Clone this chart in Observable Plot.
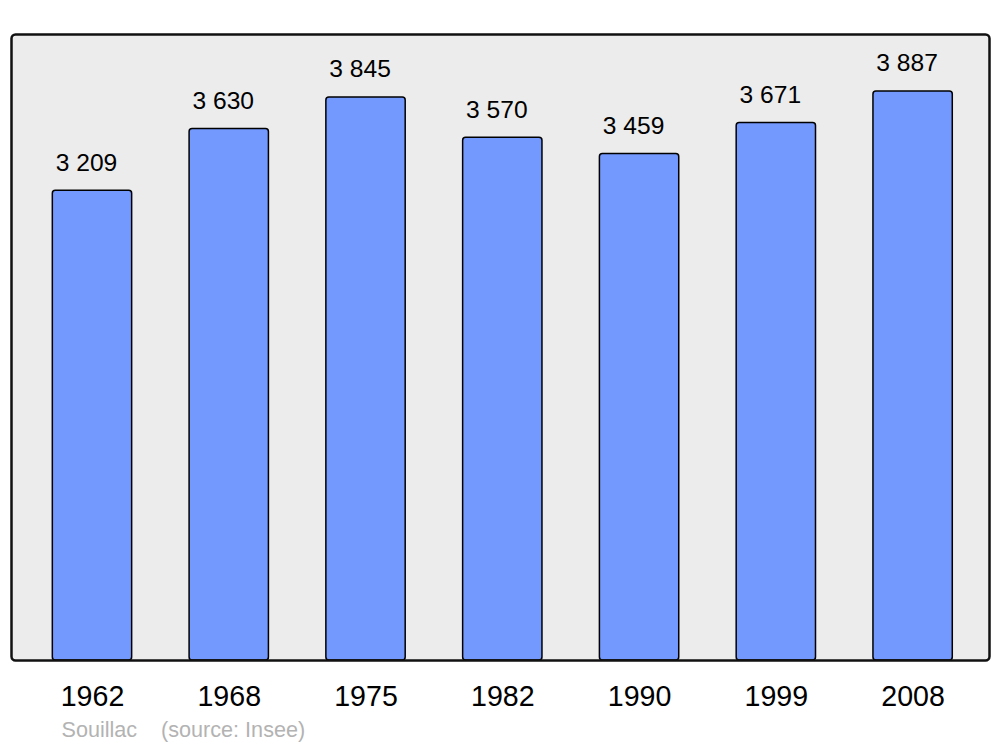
<!DOCTYPE html>
<html>
<head>
<meta charset="utf-8">
<script src="https://cdn.jsdelivr.net/npm/d3@7"></script>
<script src="https://cdn.jsdelivr.net/npm/@observablehq/plot@0.6"></script>
<style>
  html, body { margin: 0; padding: 0; background: #ffffff; }
  svg { display: block; }
</style>
</head>
<body>
<div id="chart"></div>
<script>
const years = ["1962", "1968", "1975", "1982", "1990", "1999", "2008"];
const population = [3209, 3630, 3845, 3570, 3459, 3671, 3887];
const captionText = "Souillac\u00a0\u00a0\u00a0\u00a0(source: Insee)";

const data = years.map((y, i) => ({year: y, value: population[i]}));
const fmt = v => `${Math.floor(v / 1000)} ${String(v % 1000).padStart(3, "0")}`;
const yMax = d3.max(population) * 1.1;

const chart = Plot.plot({
  width: 1000,
  height: 747,
  marginTop: 34,
  marginBottom: 87,
  marginLeft: 11,
  marginRight: 11,
  style: {fontFamily: "'Liberation Sans', Arial, sans-serif", background: "#ffffff"},
  x: {domain: years, range: [23.6, 981], paddingInner: 0.42, paddingOuter: 0.21, round: false, label: null},
  y: {domain: [0, yMax], axis: null},
  marks: [
    Plot.frame({fill: "#ececec", stroke: "none", rx: 4}),
    Plot.barY(data, {x: "year", y: "value", fill: "#7399ff", stroke: "#000000", strokeWidth: 1.5, rx: 3}),
    Plot.frame({stroke: "#111111", strokeWidth: 2.5, rx: 4}),
    Plot.text(data, {x: "year", y: "value", text: d => fmt(d.value), dx: -6, dy: -28, fontSize: 24.6, fill: "#000000", lineAnchor: "middle"}),
    Plot.axisX({tickSize: 0, tickPadding: 25, fontSize: 28.6, fill: "#000000", label: null}),
    Plot.text([captionText], {frameAnchor: "bottom-left", dx: 50, dy: 70, textAnchor: "start", lineAnchor: "middle", fontSize: 21.6, fill: "#b3b3b3"})
  ]
});
document.getElementById("chart").appendChild(chart);
</script>
</body>
</html>
